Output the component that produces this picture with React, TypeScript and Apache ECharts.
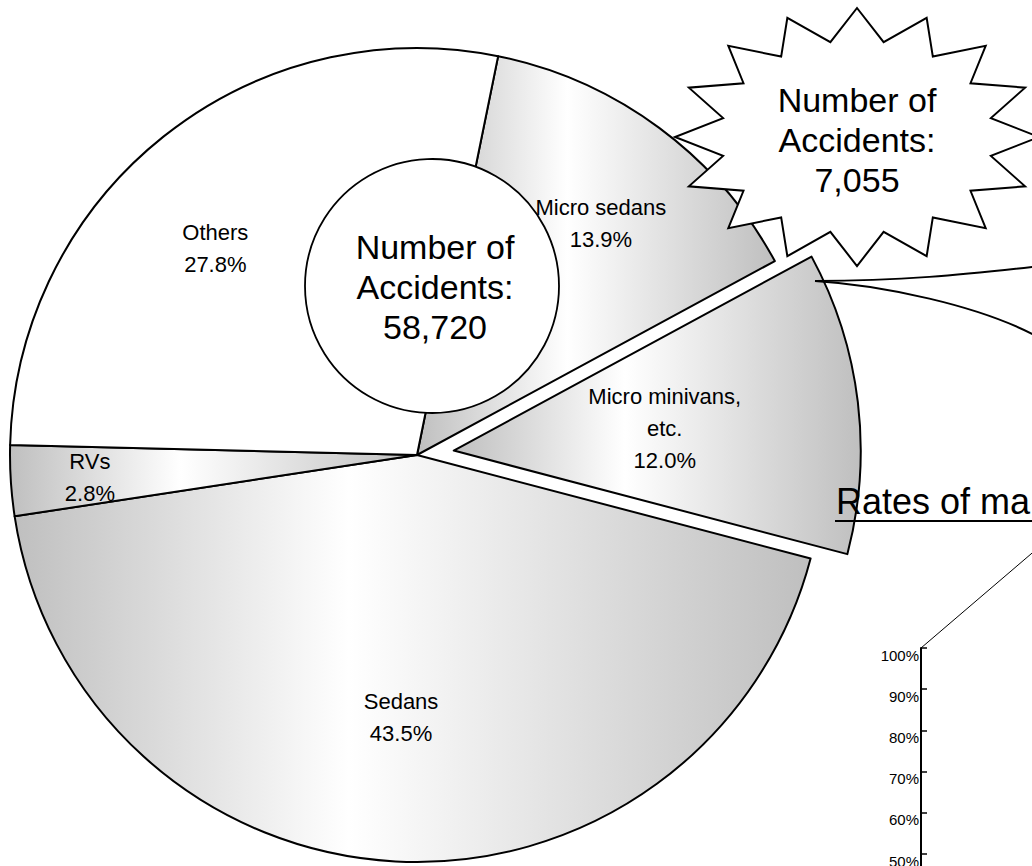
import React, { useEffect, useRef } from "react";
import * as echarts from "echarts";

// ---- data ----
const categories = ["Micro sedans", "Micro minivans, etc.", "Sedans", "RVs", "Others"];
const shares = [13.9, 12.0, 43.5, 2.8, 27.8];
const selectedFlags = [false, true, false, false, false];
const shadedFlags = [true, true, true, true, false];
const totalAccidents = "58,720";
const subsetAccidents = "7,055";
const rateTitle = "Rates of ma";
const rateAxisMin = 0;
const rateAxisMax = 100;
const rateAxisStep = 10;
const rateVisibleFrom = 50; // lowest tick label visible in the reference crop

// label nudges (px) relative to the default inside position
const labelShifts = [
  [61, -66],
  [6, 3],
  [-5, 56],
  [-121, 9],
  [-73, -45],
];

const FONT = 'Arial, "Liberation Sans", Helvetica, sans-serif';

function starPoints(cx: number, cy: number, rx: number, ry: number, inner: number, n: number) {
  const pts: number[][] = [];
  for (let k = 0; k < n * 2; k++) {
    const a = (k * Math.PI) / n;
    const f = k % 2 === 0 ? 1 : inner;
    pts.push([cx + rx * f * Math.sin(a), cy - ry * f * Math.cos(a)]);
  }
  return pts;
}

export default function App() {
  const ref = useRef<HTMLDivElement>(null);
  useEffect(() => {
    const chart = echarts.init(ref.current!, null, { renderer: "svg" });
    const grad = () =>
      new echarts.graphic.LinearGradient(0, 0, 1, 0, [
        { offset: 0, color: "#bfbfbf" },
        { offset: 0.42, color: "#ffffff" },
        { offset: 1, color: "#bfbfbf" },
      ]);
    const pieData = categories.map((name, i) => {
      const itemStyle = {
        color: shadedFlags[i] ? grad() : "#ffffff",
        borderColor: "#000",
        borderWidth: 2,
      };
      return {
        name,
        value: shares[i],
        selected: selectedFlags[i],
        itemStyle,
        select: { itemStyle },
      };
    });

    chart.setOption({
      animation: false,
      backgroundColor: "#ffffff",
      title: {
        text: rateTitle,
        left: 836,
        top: 483,
        padding: 0,
        textStyle: { fontSize: 36, fontWeight: "normal", color: "#000", fontFamily: FONT },
      },
      grid: { left: 921, top: 648, width: 300, height: 412, outerBoundsMode: "none", containLabel: false },
      xAxis: { type: "value", show: false, min: 0, max: 1 },
      yAxis: {
        type: "value",
        min: rateAxisMin,
        max: rateAxisMax,
        interval: rateAxisStep,
        axisLine: { show: true, lineStyle: { color: "#000", width: 2 } },
        axisTick: { show: true, inside: true, length: 6, lineStyle: { color: "#000", width: 1.5 } },
        axisLabel: {
          formatter: (v: number) => (v >= rateVisibleFrom ? `${v}%` : ""),
          color: "#000",
          fontSize: 15,
          fontFamily: FONT,
          margin: 2,
          verticalAlign: "top",
          lineHeight: 14,
        },
        splitLine: { show: false },
      },
      series: [
        {
          type: "pie",
          center: [417, 455],
          radius: 407,
          startAngle: 78.5,
          clockwise: true,
          selectedMode: "single",
          selectedOffset: 37,
          avoidLabelOverlap: false,
          emphasis: { disabled: true },
          data: pieData,
          label: {
            show: true,
            position: "inside",
            fontSize: 22,
            lineHeight: 32,
            color: "#000",
            fontFamily: FONT,
            formatter: (p: any) =>
              `${String(p.name).replace(", ", ",\n")}\n${Number(p.value).toFixed(1)}%`,
          },
          labelLine: { show: false },
          labelLayout: (p: any) => ({
            dx: labelShifts[p.dataIndex][0],
            dy: labelShifts[p.dataIndex][1],
          }),
        },
      ],
      graphic: [
        {
          type: "polygon",
          z: 10,
          shape: { points: starPoints(857, 137, 182, 129, 0.75, 16) },
          style: { fill: "#fff", stroke: "#000", lineWidth: 2 },
        },
        {
          type: "text",
          z: 11,
          x: 857,
          y: 140,
          style: {
            text: `Number of\nAccidents:\n${subsetAccidents}`,
            fontSize: 34,
            fontFamily: FONT,
            lineHeight: 40,
            align: "center",
            verticalAlign: "middle",
            fill: "#000",
          },
        },
        {
          type: "circle",
          z: 10,
          shape: { cx: 432, cy: 286, r: 127 },
          style: { fill: "#fff", stroke: "#000", lineWidth: 1.8 },
        },
        {
          type: "text",
          z: 11,
          x: 435,
          y: 287,
          style: {
            text: `Number of\nAccidents:\n${totalAccidents}`,
            fontSize: 34,
            fontFamily: FONT,
            lineHeight: 40,
            align: "center",
            verticalAlign: "middle",
            fill: "#000",
          },
        },
        {
          type: "bezierCurve",
          z: 9,
          shape: { x1: 815, y1: 281, cpx1: 900, cpy1: 281, cpx2: 960, cpy2: 275, x2: 1040, y2: 266 },
          style: { fill: "none", stroke: "#000", lineWidth: 2 },
        },
        {
          type: "bezierCurve",
          z: 9,
          shape: { x1: 815, y1: 281, cpx1: 880, cpy1: 285, cpx2: 980, cpy2: 305, x2: 1040, y2: 338 },
          style: { fill: "none", stroke: "#000", lineWidth: 2 },
        },
        {
          type: "line",
          z: 9,
          shape: { x1: 835, y1: 521, x2: 1040, y2: 521 },
          style: { stroke: "#000", lineWidth: 2 },
        },
        {
          type: "line",
          z: 9,
          shape: { x1: 921, y1: 648, x2: 1045, y2: 542 },
          style: { stroke: "#000", lineWidth: 1 },
        },
      ],
    });
    return () => chart.dispose();
  }, []);
  return (
    <div
      ref={ref}
      style={{ position: "fixed", left: 0, top: 0, width: 1032, height: 866, background: "#fff" }}
    />
  );
}
